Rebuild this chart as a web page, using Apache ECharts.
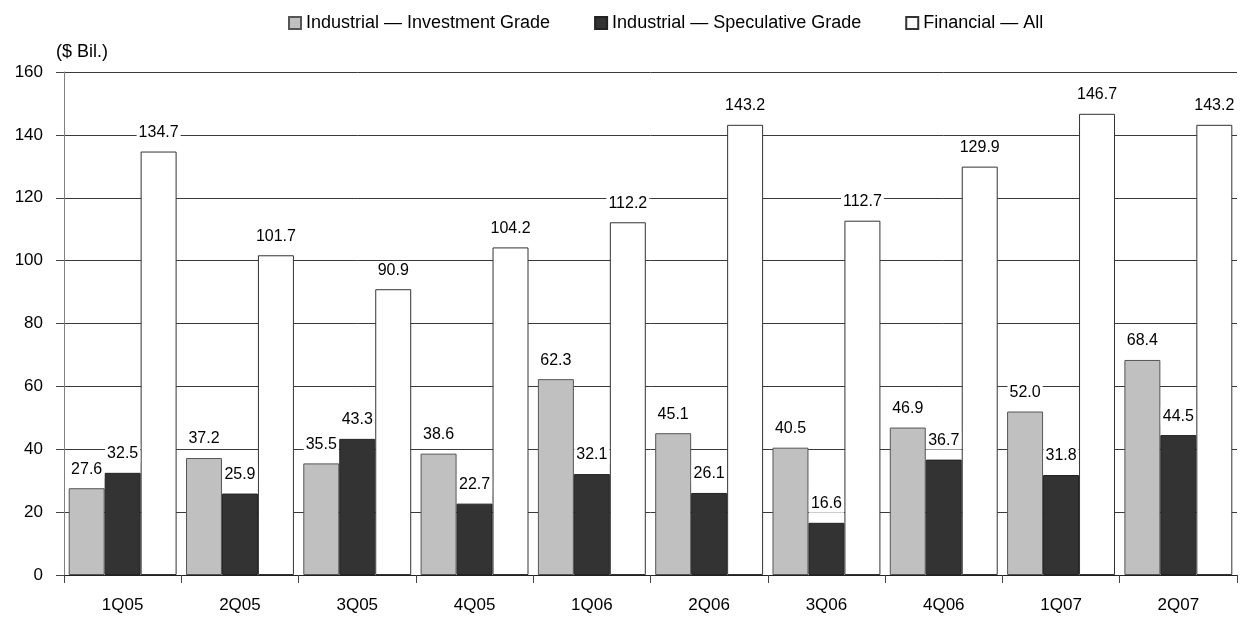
<!DOCTYPE html>
<html>
<head>
<meta charset="utf-8">
<script src="https://cdn.jsdelivr.net/npm/echarts@6/dist/echarts.min.js"></script>
<style>
  html, body { margin: 0; padding: 0; background: #fff; }
  #chart { width: 1242px; height: 622px; }
</style>
</head>
<body>
<div id="chart"></div>
<script>
// Quarterly issuance, $ billions
var quarters = ['1Q05', '2Q05', '3Q05', '4Q05', '1Q06', '2Q06', '3Q06', '4Q06', '1Q07', '2Q07'];
var industrialIG = [27.6, 37.2, 35.5, 38.6, 62.3, 45.1, 40.5, 46.9, 52.0, 68.4];
var industrialSG = [32.5, 25.9, 43.3, 22.7, 32.1, 26.1, 16.6, 36.7, 31.8, 44.5];
var financialAll = [134.7, 101.7, 90.9, 104.2, 112.2, 143.2, 112.7, 129.9, 146.7, 143.2];
var seriesNames = ['Industrial \u2014 Investment Grade', 'Industrial \u2014 Speculative Grade', 'Financial \u2014 All'];

var FONT = 'Liberation Sans, Arial, sans-serif';

var valueLabel = {
  show: true,
  position: 'top',
  distance: 10,
  color: '#000',
  fontFamily: FONT,
  fontSize: 16,
  backgroundColor: '#fff',
  padding: [1, 2],
  formatter: function (p) { return p.value.toFixed(1); }
};

function barSeries(name, data, fill, border) {
  return {
    name: name,
    type: 'bar',
    data: data,
    barGap: '0%',
    barCategoryGap: '8%',
    itemStyle: { color: fill, borderColor: border, borderWidth: 1 },
    label: valueLabel,
    emphasis: { disabled: true }
  };
}

var chart = echarts.init(document.getElementById('chart'));
chart.setOption({
  animation: false,
  backgroundColor: '#fff',
  title: {
    text: '($ Bil.)',
    left: 51,
    top: 38,
    textStyle: { fontFamily: FONT, fontSize: 18, fontWeight: 'normal', color: '#000' }
  },
  legend: {
    left: 283,
    top: 9,
    itemWidth: 12,
    itemHeight: 12,
    itemGap: 44,
    icon: 'rect',
    textStyle: { fontFamily: FONT, fontSize: 18, color: '#000' },
    data: seriesNames
  },
  grid: { left: 64, right: 5, top: 72, bottom: 47 },
  xAxis: {
    type: 'category',
    data: quarters,
    axisLine: { lineStyle: { color: '#222', width: 1 } },
    axisTick: { show: true, length: 8, lineStyle: { color: '#444' } },
    axisLabel: { color: '#000', fontFamily: FONT, fontSize: 17, margin: 22 }
  },
  yAxis: {
    type: 'value',
    min: 0,
    max: 160,
    interval: 20,
    axisLine: { show: true, lineStyle: { color: '#808080', width: 1 } },
    axisTick: { show: true, length: 8, lineStyle: { color: '#444' } },
    axisLabel: { color: '#000', fontFamily: FONT, fontSize: 17, margin: 21 },
    splitLine: { show: true, lineStyle: { color: '#3a3a3a', width: 1 } }
  },
  series: [
    barSeries(seriesNames[0], industrialIG, '#c0c0c0', '#555'),
    barSeries(seriesNames[1], industrialSG, '#333333', '#222'),
    barSeries(seriesNames[2], financialAll, '#ffffff', '#333')
  ]
});
</script>
</body>
</html>
